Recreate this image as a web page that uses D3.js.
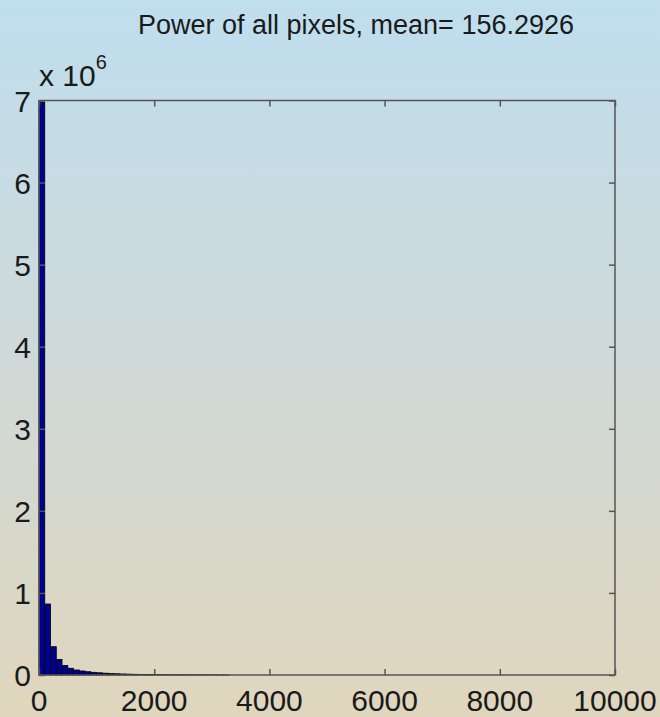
<!DOCTYPE html>
<html>
<head>
<meta charset="utf-8">
<script src="https://cdn.jsdelivr.net/npm/d3@7"></script>
<style>
  html, body { margin: 0; padding: 0; }
  svg { display: block; }
</style>
</head>
<body>
<script>
"use strict";

// histogram bins (left edges) and counts
var binEdges = [0, 100, 200, 300, 400, 500, 600, 700, 800, 900,
                1000, 1100, 1200, 1300, 1400, 1500, 1600, 1700, 1800, 1900,
                2000, 2100, 2200, 2300, 2400, 2500, 2600, 2700, 2800, 2900,
                3000, 3100, 3200];
var counts = [6980000, 865000, 345000, 190000, 115000, 82000, 61000, 49000, 40000, 33000,
              27000, 22000, 18000, 15000, 12500, 10500, 9000, 7600, 6500, 5600,
              4800, 4100, 3500, 3000, 2600, 2200, 1900, 1600, 1400, 1200,
              1000, 850, 700];
var binWidth = 100;

var xTicks = [0, 2000, 4000, 6000, 8000, 10000];
var yTicks = [0, 1, 2, 3, 4, 5, 6, 7];   // x 10^6
var title = "Power of all pixels, mean= 156.2926";

var W = 660, H = 717;
var margin = {left: 39, right: 45, top: 100.5, bottom: 42};

var svg = d3.select("body").append("svg")
    .attr("width", W)
    .attr("height", H);

// background gradient
var grad = svg.append("defs").append("linearGradient")
    .attr("id", "bg")
    .attr("x1", 0).attr("y1", 0).attr("x2", 0).attr("y2", 1);
grad.append("stop").attr("offset", "0%").attr("stop-color", "#bfdeee");
grad.append("stop").attr("offset", "50%").attr("stop-color", "#cfd9d8");
grad.append("stop").attr("offset", "100%").attr("stop-color", "#e0d6bd");
svg.append("rect").attr("width", W).attr("height", H).attr("fill", "url(#bg)");

var x = d3.scaleLinear().domain([0, 10000]).range([margin.left, W - margin.right]);
var y = d3.scaleLinear().domain([0, 7e6]).range([H - margin.bottom, margin.top]);

var font = "'Liberation Sans', Helvetica, Arial, sans-serif";
var textColor = "#1a1a1a";

// bars
svg.append("g").selectAll("rect")
    .data(counts)
    .enter()
    .append("rect")
    .attr("x", function(d, i) { return x(binEdges[i]); })
    .attr("width", function(d, i) { return x(binEdges[i] + binWidth) - x(binEdges[i]); })
    .attr("y", function(d) { return y(d); })
    .attr("height", function(d) { return y(0) - y(d); })
    .attr("fill", "#00008f")
    .attr("stroke", "#000")
    .attr("stroke-width", 0.8);

// axes (ticks inward, mirrored on the box)
var tickLen = 6;
var axisColor = "#555";
var yTickVals = yTicks.map(function(v) { return v * 1e6; });
svg.append("g")
    .attr("transform", "translate(0," + y(0) + ")")
    .call(d3.axisBottom(x).tickValues(xTicks).tickSize(-tickLen).tickFormat(""))
    .call(function(g) { g.select(".domain").remove(); });
svg.append("g")
    .attr("transform", "translate(0," + y(7e6) + ")")
    .call(d3.axisTop(x).tickValues(xTicks).tickSize(-tickLen).tickFormat(""))
    .call(function(g) { g.select(".domain").remove(); });
svg.append("g")
    .attr("transform", "translate(" + x(0) + ",0)")
    .call(d3.axisLeft(y).tickValues(yTickVals).tickSize(-tickLen).tickFormat(""))
    .call(function(g) { g.select(".domain").remove(); });
svg.append("g")
    .attr("transform", "translate(" + x(10000) + ",0)")
    .call(d3.axisRight(y).tickValues(yTickVals).tickSize(-tickLen).tickFormat(""))
    .call(function(g) { g.select(".domain").remove(); });
svg.selectAll(".tick line").attr("stroke", axisColor).attr("stroke-width", 1.5);

// box
svg.append("rect")
    .attr("x", x(0)).attr("y", y(7e6))
    .attr("width", x(10000) - x(0)).attr("height", y(0) - y(7e6))
    .attr("fill", "none")
    .attr("stroke", axisColor)
    .attr("stroke-width", 1.5);

// tick labels
svg.append("g").selectAll("text")
    .data(xTicks)
    .enter()
    .append("text")
    .attr("x", function(d) { return x(d); })
    .attr("y", 711)
    .attr("text-anchor", "middle")
    .attr("font-family", font)
    .attr("font-size", 30)
    .attr("fill", textColor)
    .text(function(d) { return d; });

svg.append("g").selectAll("text")
    .data(yTicks)
    .enter()
    .append("text")
    .attr("x", 31)
    .attr("y", function(d) { return y(d * 1e6) + 11; })
    .attr("text-anchor", "end")
    .attr("font-family", font)
    .attr("font-size", 30)
    .attr("fill", textColor)
    .text(function(d) { return d; });

// exponent label
var expo = svg.append("text")
    .attr("x", 39)
    .attr("y", 86)
    .attr("font-family", font)
    .attr("font-size", 30)
    .attr("fill", textColor);
expo.append("tspan").text("x 10");
expo.append("tspan").attr("dy", -17).attr("font-size", 20).text("6");

// title
svg.append("text")
    .attr("x", 356)
    .attr("y", 34)
    .attr("text-anchor", "middle")
    .attr("font-family", font)
    .attr("font-size", 27)
    .attr("fill", textColor)
    .text(title);
</script>
</body>
</html>
